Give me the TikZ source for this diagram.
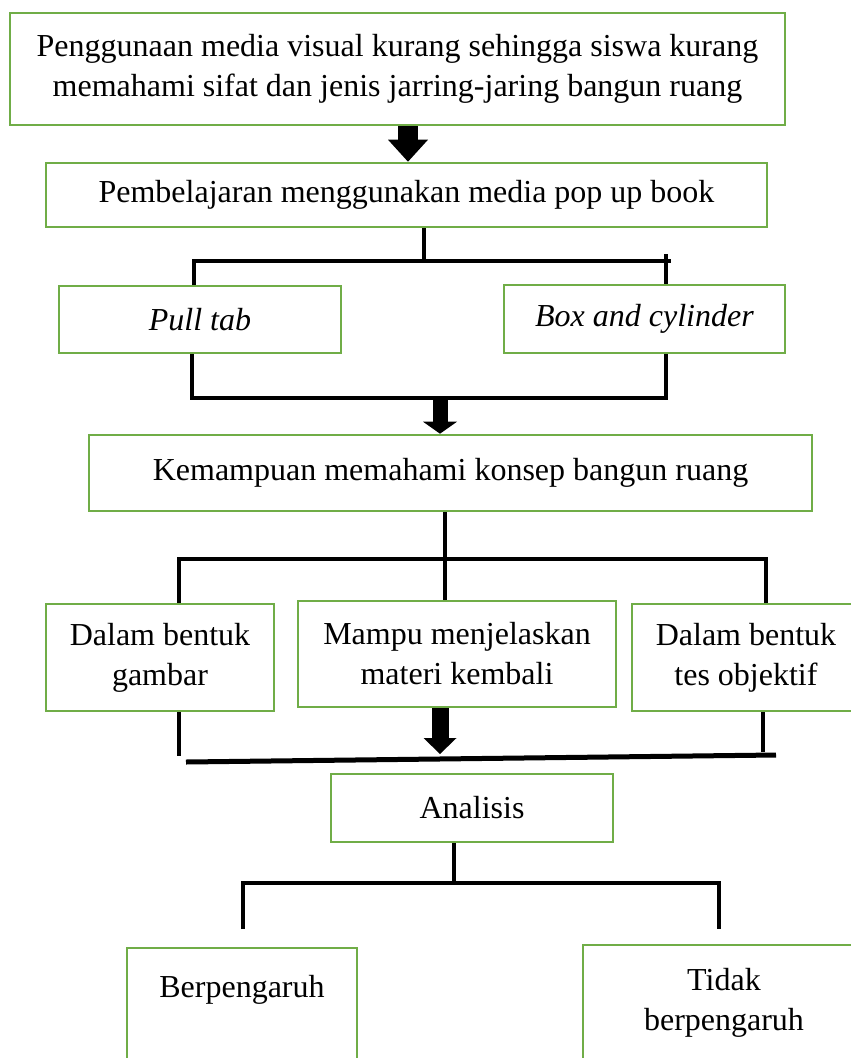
\documentclass[tikz,border=0pt]{standalone}
\usepackage{fontspec}
\setmainfont{Liberation Serif}
\usetikzlibrary{arrows.meta,positioning}
\definecolor{boxgreen}{HTML}{70AD47}

\begin{document}
\begin{tikzpicture}[
    x=1pt, y=-1pt,
    box/.style={rectangle, draw=boxgreen, line width=2.6pt, fill=white, align=center, inner sep=0pt, font=\fontsize{32}{40}\selectfont},
    link/.style={line width=3.6pt},
    fatarrow/.style={line width=#1}
]

\useasboundingbox (0,0) rectangle (851,1058);
\clip (0,0) rectangle (851,1058);

% Problem
\node[box, minimum width=775pt, minimum height=112pt] (masalah) at (397.5,69) {Penggunaan media visual kurang sehingga siswa kurang\\memahami sifat dan jenis jarring-jaring bangun ruang};

% Learning with pop up book
\node[box, minimum width=721pt, minimum height=64pt] (popup) at (406.5,195) {Pembelajaran menggunakan media pop up book};
\node[box, minimum width=282pt, minimum height=67pt] (pulltab) at (200,319.5) {\textit{Pull tab}};
\node[box, minimum width=281pt, minimum height=68pt] (boxcyl) at (644.5,319) {\textit{Box and cylinder}};

% Ability
\node[box, minimum width=723pt, minimum height=76pt] (konsep) at (450.5,473) {Kemampuan memahami konsep bangun ruang};
\node[box, minimum width=228pt, minimum height=107pt] (gambar) at (160,657.5) {Dalam bentuk\\gambar};
\node[box, minimum width=318pt, minimum height=106pt] (materi) at (457,654) {Mampu menjelaskan\\materi kembali};
\node[box, minimum width=228pt, minimum height=107pt] (tes) at (746,657.5) {Dalam bentuk\\tes objektif};

% Analysis and results
\node[box, minimum width=282pt, minimum height=68pt] (analisis) at (472,808) {Analisis};
\node[box, minimum width=230pt, minimum height=116pt] (pengaruh) at (242,1006) {Berpengaruh\\~};
\node[box, minimum width=282pt, minimum height=116pt] (tidak) at (724,1003) {Tidak\\berpengaruh};

% Arrow into the learning box
\coordinate (a1) at (408,0);
\draw[fatarrow=20pt, -{Triangle[width=40pt, length=22pt, line width=0pt]}] (masalah.south -| a1) -- (popup.north -| a1);

% Split to pull tab / box and cylinder
\coordinate (s1) at (424,261);
\coordinate (s1l) at (194,261);
\coordinate (s1r) at (671,261);
\coordinate (s1t) at (666,254);
\draw[link] (popup.south -| s1) -- (s1);
\draw[link] (pulltab.north -| s1l) -- (s1l) -- (s1r);
\draw[link] (s1t) -- (s1t |- boxcyl.north);

% Join and arrow into ability
\coordinate (j1l) at (192,398);
\coordinate (j1r) at (666,398);
\draw[link] (pulltab.south -| j1l) -- (j1l) -- (j1r) -- (boxcyl.south -| j1r);
\coordinate (a2) at (440,398);
\draw[fatarrow=15pt, -{Triangle[width=34pt, length=12pt, line width=0pt]}] (a2) -- (konsep.north -| a2);

% Split to three forms
\coordinate (s2) at (445,559);
\coordinate (s2l) at (179,559);
\coordinate (s2r) at (766,559);
\draw[link] (konsep.south -| s2) -- (s2) -- (materi.north -| s2);
\draw[link] (gambar.north -| s2l) -- (s2l) -- (s2r) -- (tes.north -| s2r);

% Join under the three forms
\coordinate (j2l) at (179,756);
\coordinate (j2r) at (763,752);
\coordinate (b2l) at (186,762);
\coordinate (b2r) at (776,755);
\draw[link] (gambar.south -| j2l) -- (j2l);
\draw[link] (tes.south -| j2r) -- (j2r);
\draw[link, line width=5pt] (b2l) -- (b2r);
\coordinate (a3) at (440,754);
\draw[fatarrow=17pt, -{Triangle[width=33pt, length=16pt, line width=0pt]}] (materi.south -| a3) -- (a3);

% Split to results
\coordinate (s3) at (454,883);
\coordinate (s3l) at (243,883);
\coordinate (s3r) at (719,883);
\coordinate (e3l) at (243,929);
\coordinate (e3r) at (719,929);
\draw[link] (analisis.south -| s3) -- (s3);
\draw[link] (e3l) -- (s3l) -- (s3r) -- (e3r);

\end{tikzpicture}
\end{document}
